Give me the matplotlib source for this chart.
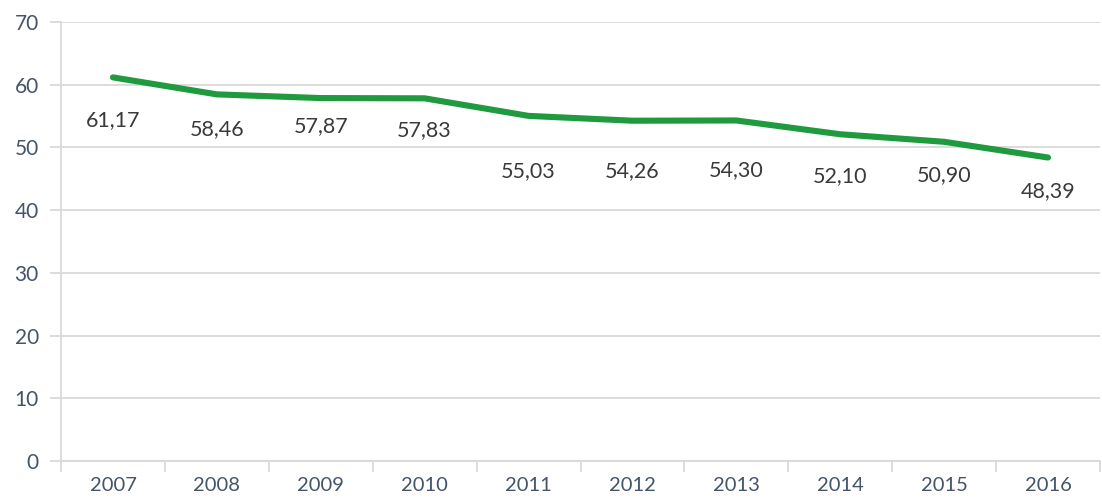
import matplotlib
matplotlib.use("Agg")
import matplotlib.pyplot as plt
from matplotlib.ticker import FixedLocator

years = ["2007", "2008", "2009", "2010", "2011", "2012", "2013", "2014", "2015", "2016"]
values = [61.17, 58.46, 57.87, 57.83, 55.03, 54.26, 54.30, 52.10, 50.90, 48.39]
value_labels = ["61,17", "58,46", "57,87", "57,83", "55,03", "54,26", "54,30", "52,10", "50,90", "48,39"]
y_ticks = [0, 10, 20, 30, 40, 50, 60, 70]

# label vertical offsets below each point (points)
label_offsets = [-31, -25, -20, -23, -40, -36, -36, -30, -24, -24]

plt.rcParams['font.family'] = ['Lato', 'DejaVu Sans']

fig = plt.figure(figsize=(11.02, 5.03), dpi=100)
ax = fig.add_axes([61 / 1102, 1 - 461 / 503, (1100 - 61) / 1102, (461 - 22) / 503])

x = list(range(len(years)))
ax.plot(x, values, color='#1f9a3e', linewidth=4.4, solid_capstyle='round', zorder=3)

for xi, v, lab, off in zip(x, values, value_labels, label_offsets):
    ax.annotate(lab, (xi, v), xytext=(0, off), textcoords='offset points',
                ha='center', va='center', fontsize=15.5, color='#3a3a3a')

ax.set_xlim(-0.5, len(years) - 0.5)
ax.set_ylim(0, 70)
ax.set_yticks(y_ticks)
ax.set_yticklabels([str(t) for t in y_ticks])
ax.set_xticks(x)
ax.set_xticklabels(years)
ax.xaxis.set_minor_locator(FixedLocator([i - 0.5 for i in range(len(years) + 1)]))

ax.grid(axis='y', color='#d9d9d9', linewidth=1.3, zorder=0)
ax.tick_params(axis='y', length=8, width=1.3, color='#d9d9d9', labelsize=15,
               labelcolor='#44546a', pad=8)
ax.tick_params(axis='x', which='major', length=0, labelsize=14.5,
               labelcolor='#44546a', pad=11.5)
ax.tick_params(axis='x', which='minor', length=8, width=1.3, color='#d9d9d9')

for s in ['top', 'right']:
    ax.spines[s].set_visible(False)
ax.spines['left'].set_color('#d9d9d9')
ax.spines['left'].set_linewidth(1.3)
ax.spines['bottom'].set_color('#d9d9d9')
ax.spines['bottom'].set_linewidth(1.3)

fig.savefig('out.png', dpi=100)
